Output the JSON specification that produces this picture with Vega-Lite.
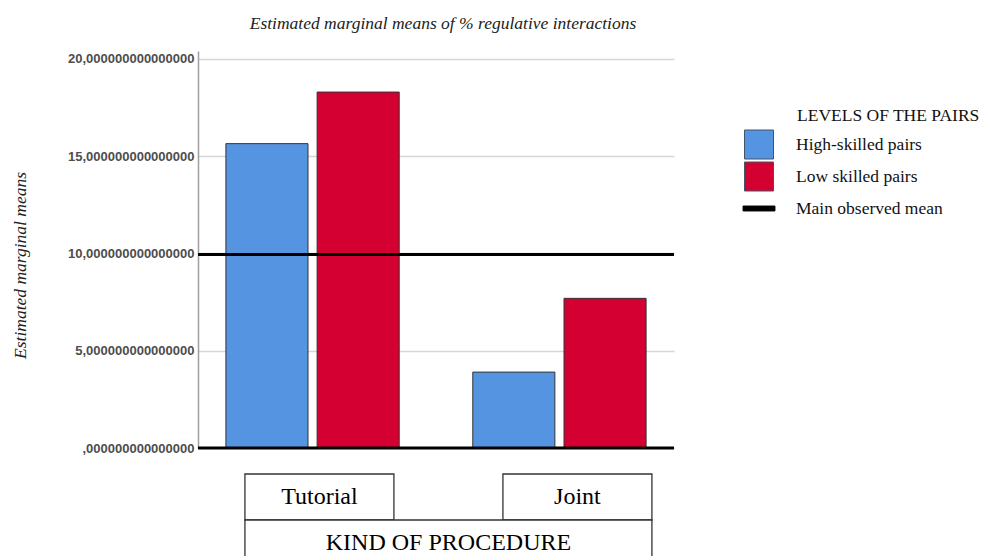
{
  "$schema": "https://vega.github.io/schema/vega-lite/v6.json",
  "autosize": {"type": "pad"},
  "padding": {"left": 10, "top": 14, "right": 0, "bottom": 0},
  "background": "white",
  "title": {
    "text": "Estimated marginal means of % regulative interactions",
    "font": "Liberation Serif",
    "fontStyle": "italic",
    "fontWeight": "normal",
    "fontSize": 17.5,
    "color": "#222222",
    "anchor": "middle",
    "frame": "group",
    "dx": 7,
    "offset": 19
  },
  "datasets": {
    "bars": [
      {"procedure": "Tutorial", "level": "High-skilled pairs", "value": 15.64},
      {"procedure": "Tutorial", "level": "Low skilled pairs", "value": 18.29},
      {"procedure": "Joint", "level": "High-skilled pairs", "value": 3.9},
      {"procedure": "Joint", "level": "Low skilled pairs", "value": 7.69}
    ],
    "mean": [
      {"series": "Main observed mean", "value": 9.94}
    ],
    "boxes": [
      {"label": "Tutorial", "row": "level", "from": "Tutorial", "to": "Tutorial"},
      {"label": "Joint", "row": "level", "from": "Joint", "to": "Joint"},
      {"label": "KIND OF PROCEDURE", "row": "factor", "from": "Tutorial", "to": "Joint"}
    ]
  },
  "spacing": 18,
  "vconcat": [
    {
      "width": 476,
      "height": 397,
      "layer": [
        {
          "data": {"name": "bars"},
          "mark": {"type": "bar", "stroke": "#333333", "strokeWidth": 1},
          "encoding": {
            "x": {
              "field": "procedure",
              "type": "nominal",
              "sort": ["Tutorial", "Joint"],
              "scale": {"paddingInner": 0.298, "paddingOuter": 0.113},
              "axis": null
            },
            "xOffset": {
              "field": "level",
              "type": "nominal",
              "sort": ["High-skilled pairs", "Low skilled pairs"],
              "scale": {"paddingInner": 0.1, "paddingOuter": 0}
            },
            "y": {
              "field": "value",
              "type": "quantitative",
              "scale": {"domain": [0, 20.4], "nice": false},
              "axis": {
                "values": [0, 5, 10, 15, 20],
                "labelExpr": "datum.value == 0 ? ',000000000000000' : replace(format(datum.value, '.15f'), '.', ',')",
                "labelFont": "Liberation Sans",
                "labelFontSize": 13,
                "labelFontWeight": "bold",
                "labelColor": "#4d4d4d",
                "labelPadding": 4,
                "ticks": false,
                "domainColor": "#a0a0a0",
                "domainWidth": 1.5,
                "gridColor": "#d6d6d6",
                "gridWidth": 1.5,
                "title": "Estimated marginal means",
                "titleFont": "Liberation Serif",
                "titleFontStyle": "italic",
                "titleFontWeight": "normal",
                "titleFontSize": 17.5,
                "titleColor": "#222222",
                "titleAngle": -90,
                "titleBaseline": "middle",
                "titleX": -178,
                "titleY": 214
              }
            },
            "color": {
              "field": "level",
              "type": "nominal",
              "scale": {
                "domain": ["High-skilled pairs", "Low skilled pairs", "Main observed mean"],
                "range": ["#5594E1", "#D50032", "#000000"]
              },
              "legend": {
                "orient": "none",
                "legendX": 546,
                "legendY": 56,
                "title": "LEVELS OF THE PAIRS",
                "titleFont": "Liberation Serif",
                "titleFontSize": 17.5,
                "titleFontWeight": "normal",
                "titleColor": "#111111",
                "titlePadding": 5,
                "titleLimit": 400,
                "labelFont": "Liberation Serif",
                "labelFontSize": 17.5,
                "labelColor": "#111111",
                "labelOffset": 22,
                "labelLimit": 300,
                "symbolSize": 841,
                "rowPadding": -4,
                "padding": 0,
                "encoding": {
                  "title": {
                    "dx": {"value": 53}
                  },
                  "symbols": {
                    "shape": {"value": {"expr": "datum.value === 'Main observed mean' ? 'M-1.1,-0.17H1.1V0.17H-1.1Z' : 'square'"}},
                    "fill": {"value": {"expr": "datum.value === 'High-skilled pairs' ? '#4472C4' : datum.value === 'Low skilled pairs' ? '#C00000' : '#000000'"}},
                    "stroke": {"value": {"expr": "datum.value === 'Main observed mean' ? '#000000' : '#44546A'"}},
                    "strokeWidth": {"value": 1},
                    "opacity": {"value": 1},
                    "fillOpacity": {"value": 1}
                  }
                }
              }
            }
          }
        },
        {
          "data": {"name": "mean"},
          "mark": {"type": "rule", "color": "#000000", "strokeWidth": 3},
          "encoding": {"y": {"field": "value", "type": "quantitative"}}
        },
        {
          "data": {"name": "mean"},
          "mark": {"type": "rule", "color": "#000000", "strokeWidth": 3},
          "encoding": {"y": {"datum": 0, "type": "quantitative"}}
        }
      ]
    },
    {
      "width": 476,
      "height": 83,
      "data": {"name": "boxes"},
      "layer": [
        {
          "mark": {"type": "rect", "fill": "white", "stroke": "#333333", "strokeWidth": 1.3},
          "encoding": {
            "x": {
              "field": "from",
              "type": "nominal",
              "bandPosition": 0,
              "scale": {"domain": ["Tutorial", "Joint"], "paddingInner": 0.4225, "paddingOuter": 0.13375, "align": 0.68},
              "axis": null
            },
            "x2": {"field": "to", "bandPosition": 1},
            "y": {
              "field": "row",
              "type": "nominal",
              "scale": {"domain": ["level", "factor"], "range": [0, 92], "paddingInner": 0, "paddingOuter": 0},
              "axis": null
            }
          }
        },
        {
          "transform": [{"filter": "datum.row == 'level'"}],
          "mark": {"type": "text", "font": "Liberation Serif", "fontSize": 24, "color": "#000000"},
          "encoding": {
            "x": {"field": "from", "type": "nominal"},
            "y": {"field": "row", "type": "nominal"},
            "text": {"field": "label"}
          }
        },
        {
          "transform": [{"filter": "datum.row == 'factor'"}],
          "mark": {"type": "text", "font": "Liberation Serif", "fontSize": 24, "color": "#000000"},
          "encoding": {
            "x": {"field": "from", "type": "nominal", "bandPosition": 1.366},
            "y": {"field": "row", "type": "nominal"},
            "text": {"field": "label"}
          }
        }
      ]
    }
  ],
  "resolve": {"scale": {"x": "independent", "y": "independent"}},
  "config": {"view": {"stroke": null}}
}
